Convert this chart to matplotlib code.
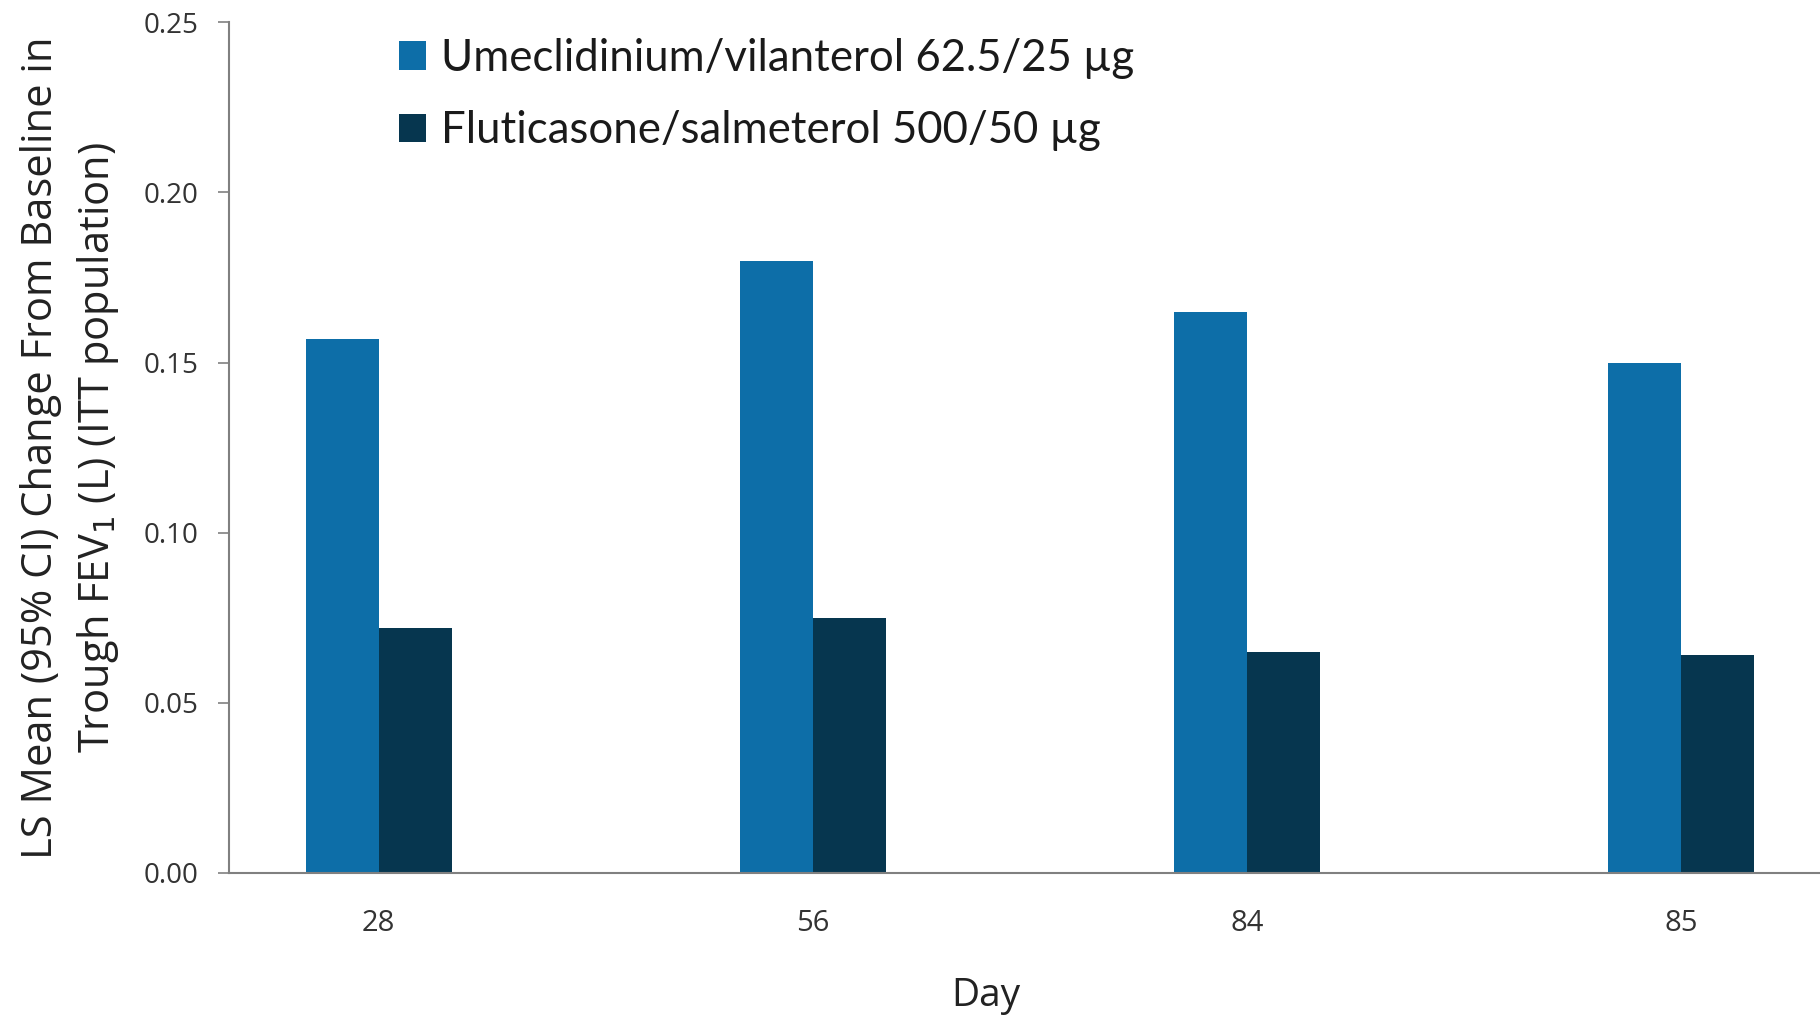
import matplotlib
matplotlib.use("Agg")
import matplotlib.pyplot as plt
import numpy as np

# Daten
days = ["28", "56", "84", "85"]
umec_vil = [0.157, 0.180, 0.165, 0.150]
flu_sal = [0.072, 0.075, 0.065, 0.064]
series_labels = ["Umeclidinium/vilanterol 62.5/25 µg", "Fluticasone/salmeterol 500/50 µg"]
y_ticks = [0.00, 0.05, 0.10, 0.15, 0.20, 0.25]

blue = "#0d6ea8"
dark = "#06364f"

plt.rcParams["font.family"] = ["Open Sans", "DejaVu Sans"]

fig = plt.figure(figsize=(18.2, 10.18), dpi=100)
ax = fig.add_axes([0.1257, 0.1426, 0.8743, 0.8354])

x = np.arange(len(days))
w = 0.168
ax.bar(x - w / 2, umec_vil, width=w, color=blue, label=series_labels[0])
ax.bar(x + w / 2, flu_sal, width=w, color=dark, label=series_labels[1])

ax.set_xlim(-0.345, 3.32)
ax.set_ylim(0, 0.25)
ax.set_yticks(y_ticks)
ax.set_yticklabels([f"{t:.2f}" for t in y_ticks])
ax.set_xticks(x)
ax.set_xticklabels(days)

for s in ["top", "right"]:
    ax.spines[s].set_visible(False)
for s in ["left", "bottom"]:
    ax.spines[s].set_color("#808080")
    ax.spines[s].set_linewidth(1.5)

ax.tick_params(axis="y", labelsize=20, colors="#808080", labelcolor="#333333",
               length=8, width=1.2, pad=14)
ax.tick_params(axis="x", labelsize=21, labelcolor="#333333", length=0, pad=26)

ax.set_ylabel("LS Mean (95% CI) Change From Baseline in\nTrough FEV$_1$ (L) (ITT population)",
              fontsize=30, color="#222222", labelpad=16, linespacing=1.4)
ax.set_xlabel("Day", fontsize=28, color="#222222")
ax.xaxis.set_label_coords(0.4756, -0.122)

leg = ax.legend(loc="upper left", bbox_to_anchor=(0.082, 1.028), frameon=False,
                prop={"family": ["Lato", "DejaVu Sans"], "size": 31.5},
                handlelength=0.62, handleheight=0.62, handletextpad=0.35,
                labelspacing=0.72)
for t in leg.get_texts():
    t.set_color("#1a1a1a")

fig.savefig("out.png", dpi=100, facecolor="white")
